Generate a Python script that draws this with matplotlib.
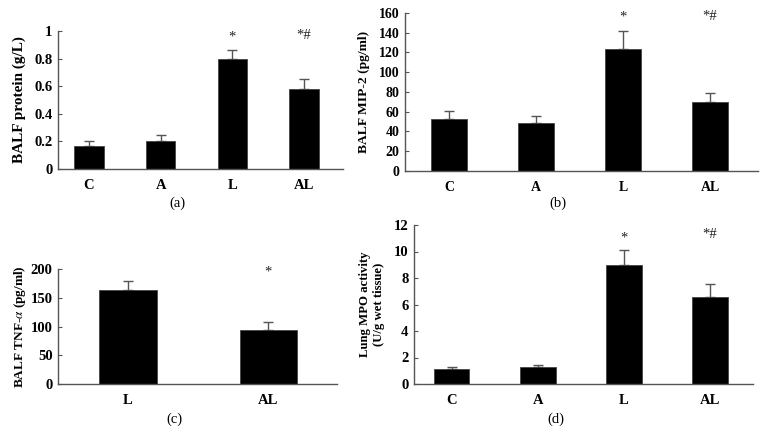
import matplotlib
matplotlib.use('Agg')
import matplotlib.pyplot as plt
import numpy as np

plt.rcParams['font.family'] = ['Liberation Serif', 'DejaVu Serif']
plt.rcParams['mathtext.fontset'] = 'stix'

# panel (a) BALF protein
groups4 = ['C', 'A', 'L', 'AL']
protein = [0.17, 0.20, 0.80, 0.58]
protein_err = [0.035, 0.045, 0.065, 0.07]
protein_marks = ['', '', '*', '*#']

# panel (b) BALF MIP-2
mip2 = [53, 49, 124, 70]
mip2_err = [8, 6.5, 18, 9]
mip2_marks = ['', '', '*', '*#']

# panel (c) BALF TNF-alpha
groups2 = ['L', 'AL']
tnf = [163, 94]
tnf_err = [17, 14]
tnf_marks = ['', '*']

# panel (d) lung MPO
mpo = [1.1, 1.3, 9.0, 6.6]
mpo_err = [0.2, 0.12, 1.1, 0.95]
mpo_marks = ['', '', '*', '*#']

W, H = 766, 445
fig = plt.figure(figsize=(W / 100, H / 100), dpi=100)

def box(l, r, t, b):
  return [l / W, 1 - b / H, (r - l) / W, (b - t) / H]

axcol = '#555555'

def panel(rect, names, vals, errs, marks, ylim, yticks, ylabel, xlim, mark_y, label, label_xy,
          tick_fs=10.5, lab_fs=9.5, lab_pad=6):
  ax = fig.add_axes(box(*rect))
  x = np.arange(len(vals))
  ax.bar(x, vals, width=0.41, color='black', edgecolor='#444444', linewidth=0.6, zorder=2)
  ax.errorbar(x, vals, yerr=[np.zeros(len(vals)), errs], fmt='none', ecolor=axcol,
              elinewidth=1.0, capsize=3.5, capthick=1.0, zorder=1)
  ax.set_xlim(*xlim)
  ax.set_ylim(*ylim)
  ax.set_yticks(yticks)
  ax.set_yticklabels([('%g' % t) for t in yticks], fontweight='bold', fontsize=tick_fs)
  ax.set_xticks(x)
  ax.set_xticklabels(names, fontweight='bold', fontsize=tick_fs)
  ax.tick_params(axis='x', length=0, pad=7)
  ax.tick_params(axis='y', direction='in', length=3, width=0.8, color=axcol, pad=4)
  for s in ['top', 'right']:
    ax.spines[s].set_visible(False)
  for s in ['left', 'bottom']:
    ax.spines[s].set_color(axcol)
    ax.spines[s].set_linewidth(1.0)
  ax.set_ylabel(ylabel, fontweight='bold', fontsize=lab_fs, labelpad=lab_pad, linespacing=1.3)
  tr = ax.get_xaxis_transform()
  for xi, m, my in zip(x, marks, mark_y):
    if m:
      ax.text(xi, my, m, transform=tr, ha='center', va='center', fontsize=10.5, color='#222222')
  fig.text(label_xy[0] / W, 1 - label_xy[1] / H, label, ha='center', va='center', fontsize=10.5)
  return ax

panel((58, 343, 31, 169), groups4, protein, protein_err, protein_marks,
      (0, 1), [0, 0.2, 0.4, 0.6, 0.8, 1], 'BALF protein (g/L)',
      (-0.433, 3.544), [0, 0, 0.955, 0.965], '(a)', (177, 203), tick_fs=10.5, lab_fs=11)

panel((405, 758, 13, 171), groups4, mip2, mip2_err, mip2_marks,
      (0, 160), [0, 20, 40, 60, 80, 100, 120, 140, 160], 'BALF MIP-2 (pg/ml)',
      (-0.506, 3.55), [0, 0, 0.975, 0.98], '(b)', (558, 203), tick_fs=10, lab_fs=9.7)

panel((58, 337, 269, 384), groups2, tnf, tnf_err, tnf_marks,
      (0, 200), [0, 50, 100, 150, 200], r'BALF TNF-$\alpha$ (pg/ml)',
      (-0.5, 1.49), [0, 0.97], '(c)', (174, 419), tick_fs=10.5, lab_fs=9.5, lab_pad=2)

panel((414, 753, 225, 384), groups4, mpo, mpo_err, mpo_marks,
      (0, 12), [0, 2, 4, 6, 8, 10, 12], 'Lung MPO activity\n(U/g wet tissue)',
      (-0.44, 3.5), [0, 0, 0.92, 0.94], '(d)', (556, 419), tick_fs=10.5, lab_fs=9.2)

fig.savefig('out.png', dpi=100)
